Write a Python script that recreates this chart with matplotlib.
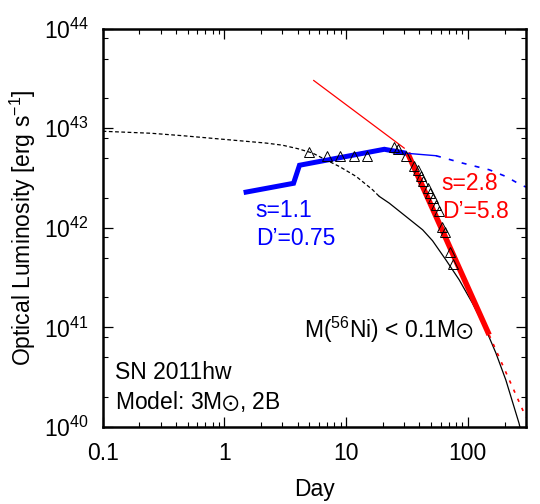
import matplotlib
matplotlib.use("Agg")
import matplotlib.pyplot as plt
from matplotlib.ticker import LogLocator, NullFormatter

plt.rcParams['font.family'] = ['Liberation Sans', 'DejaVu Sans']
plt.rcParams['mathtext.fontset'] = 'custom'
plt.rcParams['mathtext.rm'] = 'Liberation Sans'
plt.rcParams['mathtext.it'] = 'Liberation Sans:italic'
plt.rcParams['mathtext.bf'] = 'Liberation Sans:bold'
plt.rcParams['mathtext.fallback'] = 'stixsans'

# ---- data ----
# model light curve (dashed part, then solid part)
model_dash_t = [0.1, 0.25, 0.46, 1.0, 2.2, 3.0, 4.0, 5.3, 6.4, 8.8, 12.1, 16.5, 18.7]
model_dash_L = [9.33e42, 8.91e42, 8.41e42, 7.73e42, 7.10e42, 6.76e42, 6.24e42,
                5.64e42, 5.01e42, 4.13e42, 3.28e42, 2.41e42, 2.07e42]
model_solid_t = [18.7, 22.6, 31.0, 42.5, 51.3, 66.0, 84.9, 109, 141, 170, 205, 263, 280]
model_solid_L = [2.07e42, 1.77e42, 1.30e42, 9.55e41, 7.41e41, 4.76e41, 3.00e41,
                 1.75e41, 9.44e40, 5.51e40, 2.96e40, 1.09e40, 7.9e39]

# observations SN 2011hw
obs_t = [4.94, 6.98, 8.98, 11.7, 14.9, 24.9, 26.5, 31.0, 36.3, 38.6, 41.2, 43.0,
         46.7, 48.8, 51.3, 54.7, 57.4, 61.2, 64.8, 71.2, 74.8]
obs_L = [5.71e42, 5.21e42, 5.21e42, 5.21e42, 5.21e42, 6.47e42, 6.18e42, 5.30e42,
         4.13e42, 3.83e42, 3.28e42, 2.92e42, 2.51e42, 2.23e42, 1.99e42, 1.70e42,
         1.46e42, 1.03e42, 9.18e41, 5.65e41, 4.32e41]

# blue (s=1.1) curve
blue_thick_t = [1.44, 3.70, 4.14, 20.6, 31.2]
blue_thick_L = [2.26e42, 2.80e42, 4.25e42, 6.15e42, 5.61e42]
blue_thin_t = [31.2, 54.7]
blue_thin_L = [5.61e42, 5.30e42]
blue_dot_t = [54.7, 90.3, 149.5, 205, 272, 300]
blue_dot_L = [5.30e42, 4.47e42, 3.83e42, 3.28e42, 2.70e42, 2.57e42]

# red (s=2.8) curve
red_thin_t = [5.42, 30.0]
red_thin_L = [3.02e43, 6.32e42]
red_thick_t = [32.0, 149.5]
red_thick_L = [5.64e42, 8.41e40]
red_dot_t = [149.5, 300]
red_dot_L = [8.41e40, 1.25e40]

fig = plt.figure(figsize=(5.4, 5.04), dpi=100)
ax = fig.add_axes([0.190, 0.153, 0.784, 0.790])
ax.set_xscale('log')
ax.set_yscale('log')
ax.set_xlim(0.1, 300)
ax.set_ylim(1e40, 1e44)

ax.plot(model_dash_t, model_dash_L, color='black', lw=0.9, ls=(0, (3, 2)))
ax.plot(model_solid_t, model_solid_L, color='black', lw=0.9)

ax.plot(red_thin_t, red_thin_L, color='red', lw=0.9)
ax.plot(red_thick_t, red_thick_L, color='red', lw=4.0, solid_capstyle='butt')
ax.plot(red_dot_t, red_dot_L, color='red', lw=1.2, ls=(0, (2, 4)))

ax.plot(blue_thick_t, blue_thick_L, color='blue', lw=3.6, solid_joinstyle='miter',
        solid_capstyle='butt')
ax.plot(blue_thin_t, blue_thin_L, color='blue', lw=1.0)
ax.plot(blue_dot_t, blue_dot_L, color='blue', lw=1.2, ls=(0, (3, 5)))

ax.plot(obs_t, obs_L, ls='none', marker='^', ms=7, mfc='none', mec='black',
        mew=0.7)

# ticks
ax.xaxis.set_minor_locator(LogLocator(base=10, subs=range(2, 10), numticks=20))
ax.yaxis.set_major_locator(LogLocator(base=10, numticks=10))
ax.yaxis.set_minor_locator(LogLocator(base=10, subs=[2, 5, 8], numticks=20))
ax.xaxis.set_minor_formatter(NullFormatter())
ax.yaxis.set_minor_formatter(NullFormatter())
ax.set_xticks([0.1, 1, 10, 100])
ax.set_xticklabels(['0.1', '1', '10', '100'])
ax.set_xlim(0.1, 300)
ax.tick_params(which='both', direction='in', top=True, right=True, labelsize=16.5)
ax.tick_params(which='major', length=7, width=0.9)
ax.tick_params(which='minor', length=3.6, width=0.8)
ax.tick_params(axis='x', which='major', pad=11)
ax.tick_params(axis='y', which='major', pad=10)
for sp in ax.spines.values():
    sp.set_linewidth(1.8)

ax.set_xlabel('Day', fontsize=16.5, labelpad=9)
fig.text(0.042, 0.547, 'Optical Luminosity [erg s$^{-1}$]', rotation=90,
         ha='center', va='center', fontsize=16.5)

ax.text(0.362, 0.528, 's=1.1', color='blue', fontsize=16.5, transform=ax.transAxes)
ax.text(0.362, 0.457, 'D\u2019=0.75', color='blue', fontsize=16.5, transform=ax.transAxes)
ax.text(0.801, 0.5955, 's=2.8', color='red', fontsize=16.5, transform=ax.transAxes)
ax.text(0.801, 0.525, 'D\u2019=5.8', color='red', fontsize=16.5, transform=ax.transAxes)
ax.text(0.876, 0.223, r'M($^{56}$Ni) < 0.1M$\odot$', color='black', fontsize=16.5,
        ha='right', transform=ax.transAxes)
ax.text(0.029, 0.121, 'SN 2011hw', fontsize=16.5, transform=ax.transAxes)
ax.text(0.029, 0.045, r'Model: 3M$\odot$, 2B', fontsize=16.5, transform=ax.transAxes)

fig.savefig('out.png', dpi=100)
